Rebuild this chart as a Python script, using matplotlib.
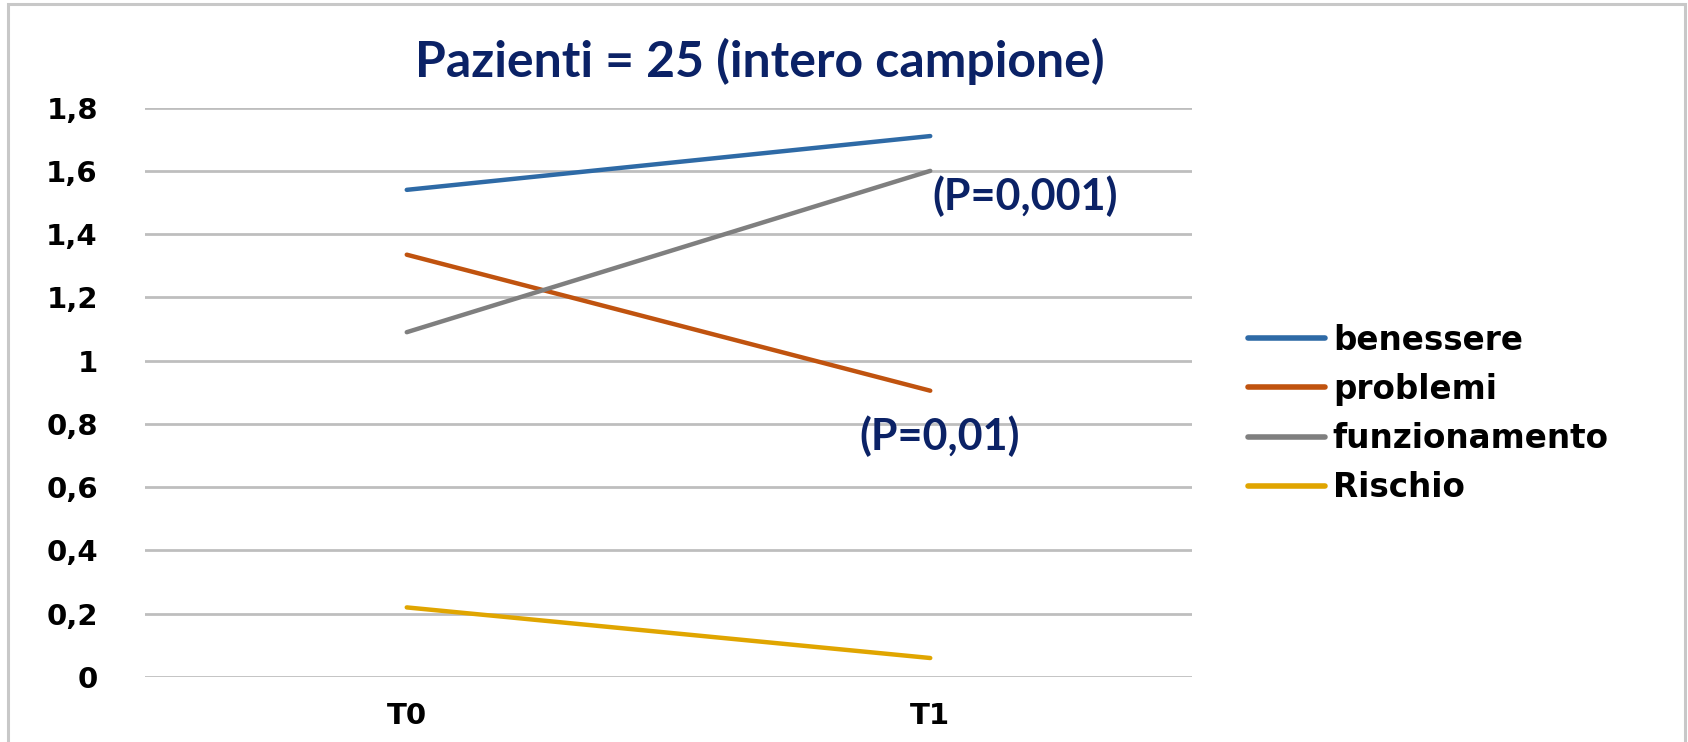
import matplotlib
matplotlib.use("Agg")
import matplotlib.pyplot as plt
from matplotlib.patches import Rectangle

# ---- data ----
categories = ["T0", "T1"]
series_names = ["benessere", "problemi", "funzionamento", "Rischio"]
benessere = [1.54, 1.71]
problemi = [1.335, 0.905]
funzionamento = [1.09, 1.60]
rischio = [0.22, 0.06]
y_ticks = [0, 0.2, 0.4, 0.6, 0.8, 1.0, 1.2, 1.4, 1.6, 1.8]
y_tick_labels = ["0", "0,2", "0,4", "0,6", "0,8", "1", "1,2", "1,4", "1,6", "1,8"]
title = "Pazienti = 25 (intero campione)"
annotations = ["(P=0,001)", "(P=0,01)"]

colors = ["#2E6AA6", "#C0530F", "#7F7F7F", "#E0A500"]
navy = "#0B2266"

W, H = 1688, 742
fig = plt.figure(figsize=(W / 100, H / 100), dpi=100)
fig.patch.set_facecolor("white")

# outer frame
fig.add_artist(Rectangle((8 / W, -0.01), (1685 - 8) / W, (H - 4) / H + 0.01,
                         transform=fig.transFigure, fill=False,
                         edgecolor="#C8C8C8", linewidth=2.2))

ax = fig.add_axes([145 / W, (H - 677) / H, 1047 / W, (677 - 107.6) / H])
x = list(range(len(categories)))
for name, vals, c in zip(series_names, [benessere, problemi, funzionamento, rischio], colors):
    ax.plot(x, vals, color=c, linewidth=3.2, solid_capstyle="round", label=name, zorder=3)

ax.set_xlim(-0.5, 1.5)
ax.set_ylim(0, 1.8)
ax.set_yticks(y_ticks)
ax.set_yticklabels(y_tick_labels)
ax.set_xticks(x)
ax.set_xticklabels(categories)
for s in ax.spines.values():
    s.set_visible(False)
ax.grid(axis="y", color="#BEBEBE", linewidth=2.0, zorder=0)
ax.tick_params(axis="both", length=0)
ax.tick_params(axis="y", pad=34)
ax.tick_params(axis="x", pad=18)
for lab in ax.get_yticklabels() + ax.get_xticklabels():
    lab.set_fontfamily("DejaVu Sans")
    lab.set_fontweight("bold")
    lab.set_fontsize(21)
    lab.set_color("black")

ax.text(1.005, 1.52, annotations[0], fontsize=31, fontweight="bold", family=["Lato", "DejaVu Sans"],
        color=navy, ha="left", va="center")
ax.text(0.865, 0.76, annotations[1], fontsize=31, fontweight="bold", family=["Lato", "DejaVu Sans"],
        color=navy, ha="left", va="center")

fig.text(760 / W, 1 - 77 / H, title, fontsize=36, fontweight="bold",
         family=["Lato", "DejaVu Sans"], color=navy, ha="center", va="baseline")

handles, labels = ax.get_legend_handles_labels()
leg = fig.legend(handles, labels, loc="center left", bbox_to_anchor=(1248 / W, 1 - 414 / H),
                 frameon=False, prop={"family": "DejaVu Sans", "weight": "bold", "size": 23.5},
                 handlelength=2.35, handletextpad=0.25, labelspacing=0.5, borderpad=0, borderaxespad=0)
for l in leg.get_lines():
    l.set_linewidth(4)

fig.savefig("out.png", dpi=100, facecolor="white")
